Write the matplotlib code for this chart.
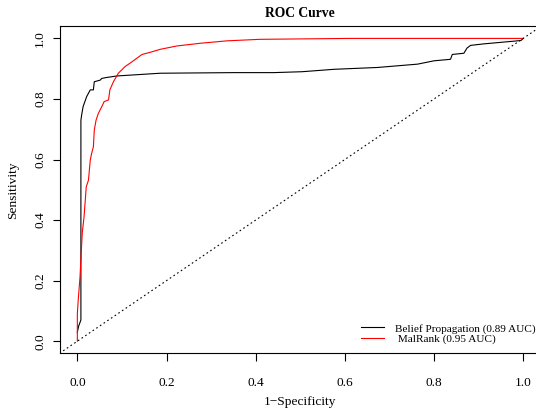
import matplotlib
matplotlib.use("Agg")
import matplotlib.pyplot as plt

plt.rcParams['font.family'] = ['Liberation Serif', 'DejaVu Serif']

# Belief Propagation ROC (1-specificity, sensitivity)
bp_fpr = [0.0, 0.003, 0.008, 0.008, 0.010, 0.013, 0.021, 0.029, 0.036, 0.038, 0.051, 0.055,
          0.066, 0.089, 0.186, 0.351, 0.44, 0.504, 0.576, 0.673, 0.763, 0.80, 0.837, 0.841,
          0.867, 0.874, 0.882, 0.912, 0.995, 1.0]
bp_tpr = [0.03, 0.05, 0.07, 0.73, 0.75, 0.775, 0.808, 0.83, 0.83, 0.857, 0.862, 0.868,
          0.871, 0.876, 0.885, 0.887, 0.887, 0.890, 0.898, 0.904, 0.915, 0.926, 0.931, 0.947,
          0.951, 0.968, 0.977, 0.982, 0.993, 1.0]

# MalRank ROC
mr_fpr = [0.0, 0.0, 0.002, 0.006, 0.011, 0.015, 0.020, 0.025, 0.029, 0.032, 0.036, 0.038,
          0.042, 0.047, 0.055, 0.060, 0.070, 0.073, 0.081, 0.092, 0.107, 0.118, 0.133, 0.145,
          0.163, 0.186, 0.223, 0.276, 0.336, 0.41, 0.613, 1.0]
mr_tpr = [0.0, 0.09, 0.136, 0.212, 0.357, 0.41, 0.51, 0.532, 0.598, 0.62, 0.642, 0.697,
          0.730, 0.752, 0.775, 0.791, 0.797, 0.83, 0.857, 0.885, 0.907, 0.918, 0.934, 0.947,
          0.954, 0.964, 0.975, 0.984, 0.992, 0.997, 1.0, 1.0]

labels = ["Belief Propagation (0.89 AUC)", " MalRank (0.95 AUC)"]
ticks = [0.0, 0.2, 0.4, 0.6, 0.8, 1.0]
tick_labels = ["0.0", "0.2", "0.4", "0.6", "0.8", "1.0"]

fig = plt.figure(figsize=(5.36, 4.11), dpi=100)
ax = fig.add_axes([59.5 / 536, (411 - 353.3) / 411, (541 - 59.5) / 536, (353.3 - 26.3) / 411])

ax.plot(bp_fpr, bp_tpr, color='black', lw=0.8, label=labels[0])
ax.plot(mr_fpr, mr_tpr, color='red', lw=0.8, label=labels[1])
ax.axline((0, 0), (1, 1), color='black', lw=0.8, linestyle=(0, (1.5, 2.5)))

ax.set_xlim(-0.04, 1.04)
ax.set_ylim(-0.04, 1.04)
ax.set_xticks(ticks)
ax.set_xticklabels(tick_labels)
ax.set_yticks(ticks)
ax.set_yticklabels(tick_labels, rotation=90, va='center')
ax.tick_params(direction='out', length=5.4, width=0.8, labelsize=9.6)
ax.tick_params(axis='x', pad=11.5)
ax.tick_params(axis='y', pad=4.3)
for s in ax.spines.values():
    s.set_linewidth(0.8)

ax.set_xlabel("1\u2212Specificity", fontsize=9.6, labelpad=5.0)
ax.set_ylabel("Sensitivity", fontsize=9.6, labelpad=11)
ax.set_title("ROC Curve", fontsize=9.8, fontweight='bold', pad=7)

leg = ax.legend(loc='lower right', bbox_to_anchor=(540 / 541, 0.014), frameon=False, fontsize=8.1,
                handlelength=2.0, handletextpad=1.0, labelspacing=0.05, borderaxespad=0)

fig.savefig("out.png", dpi=100)
